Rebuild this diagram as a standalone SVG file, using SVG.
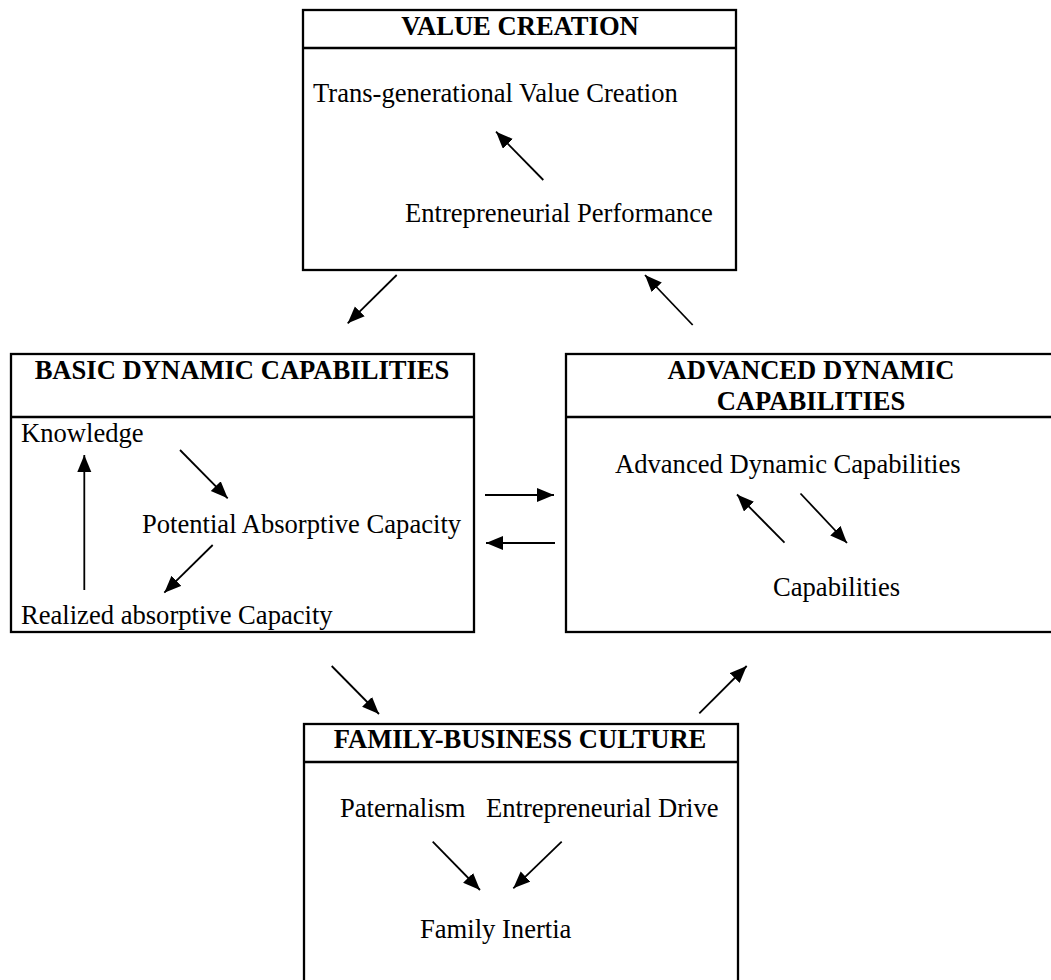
<svg xmlns="http://www.w3.org/2000/svg" width="1051" height="980" viewBox="0 0 1051 980">
  <style>
    .box { fill: none; stroke: #000; stroke-width: 2.3; }
    .title { font-family: "Liberation Serif", "Times New Roman", serif; font-size: 26.6px; font-weight: bold; text-anchor: middle; fill: #000; }
    .label { font-family: "Liberation Serif", "Times New Roman", serif; font-size: 26.6px; fill: #000; }
    .arrow { stroke: #000; stroke-width: 1.8; fill: none; marker-end: url(#head); }
  </style>
  <defs>
    <marker id="head" markerUnits="userSpaceOnUse" markerWidth="19" markerHeight="16" refX="17" refY="7" orient="auto">
      <path d="M0,0 L17,7 L0,14 z" fill="#000"/>
    </marker>
  </defs>
  <rect width="1051" height="980" fill="#fff"/>

  <!-- Value creation -->
  <g id="value-creation">
    <rect class="box" x="303" y="10" width="433" height="260"/>
    <line class="box" x1="303" y1="48" x2="736" y2="48"/>
    <text class="title" x="520" y="35">VALUE CREATION</text>
    <text class="label" x="313" y="102">Trans-generational Value Creation</text>
    <text class="label" x="405" y="222">Entrepreneurial Performance</text>
  </g>

  <!-- Basic dynamic capabilities -->
  <g id="basic-dynamic-capabilities">
    <rect class="box" x="11" y="354" width="463" height="278"/>
    <line class="box" x1="11" y1="417" x2="474" y2="417"/>
    <text class="title" x="242" y="379">BASIC DYNAMIC CAPABILITIES</text>
    <text class="label" x="21" y="442">Knowledge</text>
    <text class="label" x="142" y="533">Potential Absorptive Capacity</text>
    <text class="label" x="21" y="624">Realized absorptive Capacity</text>
  </g>

  <!-- Advanced dynamic capabilities (box runs past the right edge) -->
  <g id="advanced-dynamic-capabilities">
    <rect class="box" x="566" y="354" width="490" height="278"/>
    <line class="box" x1="566" y1="417" x2="1056" y2="417"/>
    <text class="title" x="811" y="379">ADVANCED DYNAMIC</text>
    <text class="title" x="811" y="410">CAPABILITIES</text>
    <text class="label" x="615" y="473">Advanced Dynamic Capabilities</text>
    <text class="label" x="773" y="596">Capabilities</text>
  </g>

  <!-- Family-business culture (box runs past the bottom edge) -->
  <g id="family-business-culture">
    <rect class="box" x="304" y="724" width="434" height="270"/>
    <line class="box" x1="304" y1="762" x2="738" y2="762"/>
    <text class="title" x="520" y="748">FAMILY-BUSINESS CULTURE</text>
    <text class="label" x="340" y="817">Paternalism</text>
    <text class="label" x="486" y="817">Entrepreneurial Drive</text>
    <text class="label" x="420" y="938">Family Inertia</text>
  </g>

  <!-- Connectors -->
  <g id="connectors">
    <line class="arrow" x1="543.3" y1="180" x2="496" y2="131.7"/>
    <line class="arrow" x1="396.7" y1="275" x2="347.7" y2="323.3"/>
    <line class="arrow" x1="692.7" y1="325" x2="645" y2="275"/>
    <line class="arrow" x1="180" y1="450" x2="227.7" y2="498.3"/>
    <line class="arrow" x1="212.7" y1="545" x2="164.3" y2="592.7"/>
    <line class="arrow" x1="84.3" y1="590" x2="84.3" y2="455"/>
    <line class="arrow" x1="485" y1="495" x2="554" y2="495"/>
    <line class="arrow" x1="555" y1="543" x2="486" y2="543"/>
    <line class="arrow" x1="784.5" y1="542.7" x2="737" y2="494.5"/>
    <line class="arrow" x1="800.5" y1="493.5" x2="847" y2="543"/>
    <line class="arrow" x1="331.7" y1="666" x2="379" y2="714"/>
    <line class="arrow" x1="699.3" y1="713.3" x2="746.7" y2="666"/>
    <line class="arrow" x1="432.7" y1="841.7" x2="480" y2="890"/>
    <line class="arrow" x1="561.7" y1="841.7" x2="513.3" y2="888.3"/>
  </g>
</svg>
